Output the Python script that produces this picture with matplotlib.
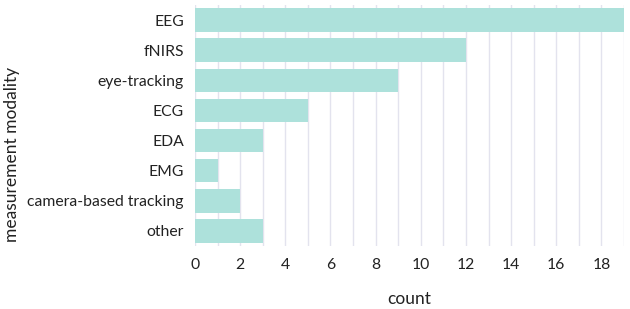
import matplotlib
matplotlib.use("Agg")
from matplotlib import pyplot as plt
from matplotlib.ticker import MultipleLocator

# modalities and how many studies used each
modality = ['EEG', 'fNIRS', 'eye-tracking', 'ECG', 'EDA', 'EMG',
            'camera-based tracking', 'other']
count = [19, 12, 9, 5, 3, 1, 2, 3]

plt.rcParams['font.family'] = ['Lato', 'DejaVu Sans']

fig = plt.figure(figsize=(6.3, 3.09), dpi=100)
ax = fig.add_axes([0.3095, 0.204, 0.681, 0.78])

ypos = list(range(len(modality)))
ax.barh(ypos, count, height=0.78, color='#ade1db', zorder=2)

ax.set_yticks(ypos)
ax.set_yticklabels(modality, fontsize=11.3, color='#222222')
ax.set_ylim(len(modality) - 0.5, -0.5)
ax.set_xlim(0, 19)
ax.xaxis.set_major_locator(MultipleLocator(2))
ax.xaxis.set_minor_locator(MultipleLocator(1))
ax.tick_params(axis='x', which='both', length=0, labelsize=11.3, pad=9,
               labelcolor='#222222')
ax.tick_params(axis='y', length=0, pad=8)
ax.grid(axis='x', which='both', color='#e3e3ee', linewidth=1, zorder=0)
for s in ax.spines.values():
    s.set_visible(False)

ax.set_xlabel('count', fontsize=12.5, labelpad=13, color='#222222')
ax.set_ylabel('measurement modality', fontsize=12.5, color='#222222')
# label sits a little lower than the axes centre
ax.yaxis.set_label_coords(-0.407, 0.378)

fig.savefig('out.png', dpi=100)
